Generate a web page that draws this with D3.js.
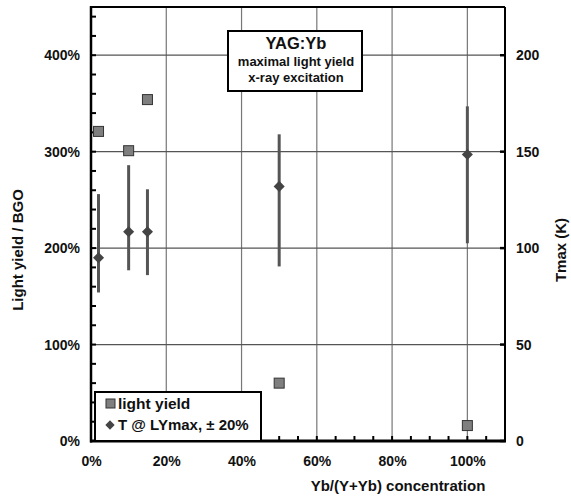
<!DOCTYPE html>
<html><head><meta charset="utf-8">
<script src="https://cdn.jsdelivr.net/npm/d3@7"></script>
<style>
body{margin:0;background:#fff;}
text{font-family:"Liberation Sans",Arial,Helvetica,sans-serif;font-weight:bold;fill:#111;}
</style></head>
<body><svg id="c" width="571" height="496"></svg>
<script>
// Data
const concentration = [2, 10, 15, 50, 100];            // Yb/(Y+Yb) %
const lightYield    = [321, 301, 354, 60, 16];          // % of BGO
const tmax          = [95, 108.5, 108.5, 132, 148.5];   // K
const tmaxLow       = [77, 88.5, 86, 90.5, 102.5];      // K
const tmaxHigh      = [128, 143, 130.5, 159, 173.5];    // K
const xTicks = [0, 20, 40, 60, 80, 100];
const yTicks = [0, 100, 200, 300, 400];
const y2Ticks = [0, 50, 100, 150, 200];
const titleLines = ["YAG:Yb", "maximal light yield", "x-ray excitation"];
const legendLabels = ["light yield", "T @ LYmax, ± 20%"];

const svg = d3.select("#c");
const L = 91, R = 505, T = 7, B = 441;
const x = d3.scaleLinear().domain([0, 110]).range([L, R]);
const y = d3.scaleLinear().domain([0, 450]).range([B, T]);
const y2 = d3.scaleLinear().domain([0, 225]).range([B, T]);

svg.append("rect").attr("width",571).attr("height",496).attr("fill","#fff");

// grid
const g = svg.append("g");
g.selectAll(".vg").data(xTicks.filter(d=>d>0)).join("line")
  .attr("x1",d=>x(d)).attr("x2",d=>x(d)).attr("y1",T).attr("y2",B)
  .attr("stroke","#777").attr("stroke-width",1.2);
g.selectAll(".hg").data(yTicks.filter(d=>d>0)).join("line")
  .attr("x1",L).attr("x2",R).attr("y1",d=>y(d)).attr("y2",d=>y(d))
  .attr("stroke","#555").attr("stroke-width",1.2);

// axes
const axL = d3.axisLeft(y).tickValues(yTicks).tickFormat(d=>d+"%").tickSize(0).tickPadding(11);
const gl = svg.append("g").attr("transform",`translate(${L},0)`).call(axL);
gl.select(".domain").remove();
gl.selectAll("text").attr("font-size",14).style("font-weight","bold");

const axB = d3.axisBottom(x).tickValues(xTicks).tickFormat(d=>d+"%").tickSize(0).tickPadding(15);
const gb = svg.append("g").attr("transform",`translate(0,${B})`).call(axB);
gb.select(".domain").remove();
gb.selectAll("text").attr("font-size",14).style("font-weight","bold");

const axR = d3.axisRight(y2).tickValues(y2Ticks).tickSize(0).tickPadding(11);
const gr = svg.append("g").attr("transform",`translate(${R},0)`).call(axR);
gr.select(".domain").remove();
gr.selectAll("text").attr("font-size",14).style("font-weight","bold");

// minor ticks (inward)
const leftMinor = d3.range(0, 450, 20);
svg.append("g").selectAll("line").data(leftMinor).join("line")
  .attr("x1",L).attr("x2",L+5).attr("y1",d=>y(d)).attr("y2",d=>y(d))
  .attr("stroke","#000").attr("stroke-width",2);
const botMinor = d3.range(0, 110, 5);
svg.append("g").selectAll("line").data(botMinor).join("line")
  .attr("x1",d=>x(d)).attr("x2",d=>x(d)).attr("y1",B).attr("y2",B-5)
  .attr("stroke","#000").attr("stroke-width",2);
svg.append("g").selectAll("line").data(y2Ticks).join("line")
  .attr("x1",R).attr("x2",R-5).attr("y1",d=>y2(d)).attr("y2",d=>y2(d))
  .attr("stroke","#000").attr("stroke-width",2.5);

// frame
svg.append("line").attr("x1",L).attr("x2",R).attr("y1",T).attr("y2",T).attr("stroke","#000").attr("stroke-width",2);
svg.append("line").attr("x1",R).attr("x2",R).attr("y1",T).attr("y2",B).attr("stroke","#000").attr("stroke-width",2);
svg.append("line").attr("x1",L).attr("x2",L).attr("y1",T-1).attr("y2",B+1.5).attr("stroke","#000").attr("stroke-width",2.5);
svg.append("line").attr("x1",L-1).attr("x2",R+1).attr("y1",B).attr("y2",B).attr("stroke","#000").attr("stroke-width",3);

// error bars
const pts = concentration.map((c,i)=>({c, ly:lightYield[i], t:tmax[i], lo:tmaxLow[i], hi:tmaxHigh[i]}));
svg.append("g").selectAll("line").data(pts).join("line")
  .attr("x1",d=>x(d.c)).attr("x2",d=>x(d.c)).attr("y1",d=>y2(d.lo)).attr("y2",d=>y2(d.hi))
  .attr("stroke","#555").attr("stroke-width",3);
// diamonds
const dsym = d3.symbol().type(d3.symbolDiamond2).size(78);
svg.append("g").selectAll("path").data(pts).join("path")
  .attr("d",dsym).attr("transform",d=>`translate(${x(d.c)},${y2(d.t)})`)
  .attr("fill","#444");
// squares
svg.append("g").selectAll("rect").data(pts).join("rect")
  .attr("x",d=>x(d.c)-5).attr("y",d=>y(d.ly)-5).attr("width",10).attr("height",10)
  .attr("fill","#7f7f7f").attr("stroke","#333").attr("stroke-width",1);

// title box
svg.append("rect").attr("x",228).attr("y",31).attr("width",134).attr("height",60)
  .attr("fill","#fff").attr("stroke","#000").attr("stroke-width",2);
const tb = svg.append("g");
tb.append("text").attr("x",296).attr("y",49).attr("text-anchor","middle").attr("font-size",16.5).text(titleLines[0]);
tb.append("text").attr("x",296).attr("y",66).attr("text-anchor","middle").attr("font-size",13).text(titleLines[1]);
tb.append("text").attr("x",296).attr("y",82).attr("text-anchor","middle").attr("font-size",13).text(titleLines[2]);

// legend
svg.append("rect").attr("x",95).attr("y",392).attr("width",166).attr("height",49)
  .attr("fill","#fff").attr("stroke","#000").attr("stroke-width",2);
svg.append("rect").attr("x",106).attr("y",399).attr("width",9).attr("height",9)
  .attr("fill","#7f7f7f").attr("stroke","#333").attr("stroke-width",1);
svg.append("text").attr("x",118).attr("y",409).attr("font-size",15.5).text(legendLabels[0]);
svg.append("path").attr("d",d3.symbol().type(d3.symbolDiamond2).size(55))
  .attr("transform","translate(110,425)").attr("fill","#444");
svg.append("text").attr("x",118).attr("y",430).attr("font-size",15).text(legendLabels[1]);

// axis titles
svg.append("text").attr("transform","translate(23,250) rotate(-90)").attr("text-anchor","middle")
  .attr("font-size",15).text("Light yield / BGO");
svg.append("text").attr("transform","translate(566,250) rotate(-90)").attr("text-anchor","middle")
  .attr("font-size",15).text("Tmax (K)");
svg.append("text").attr("x",398).attr("y",491).attr("text-anchor","middle")
  .attr("font-size",15).text("Yb/(Y+Yb) concentration");
</script></body></html>
